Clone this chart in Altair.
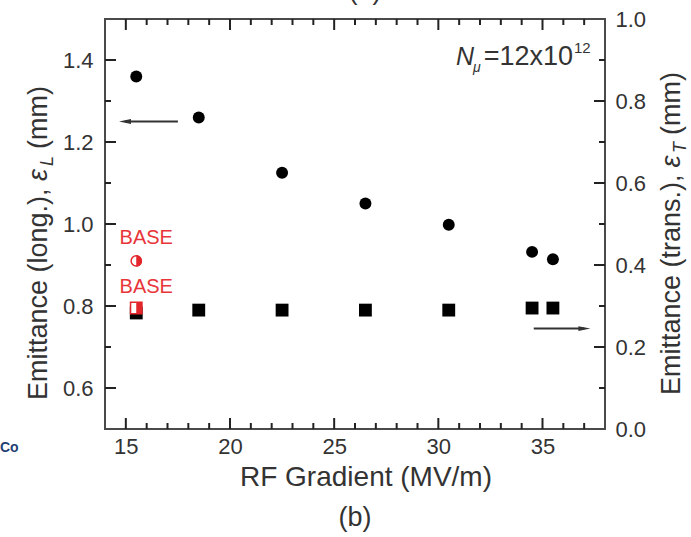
import altair as alt
import pandas as pd

FONT = "Liberation Sans"
TXT = "#333333"
AX = "#4a4a4a"
TICK = "#222222"
RED = "#e3262b"

# ---------------- data ----------------
gradient = [15.5, 18.5, 22.5, 26.5, 30.5, 34.5, 35.5]
emit_long = [1.36, 1.26, 1.125, 1.05, 0.998, 0.932, 0.914]
emit_trans = [0.283, 0.29, 0.29, 0.29, 0.29, 0.295, 0.295]
base_gradient = [15.5]
base_long = [0.91]
base_trans = [0.295]

x_major = [15, 20, 25, 30, 35]
x_minor = [16, 17, 18, 19, 21, 22, 23, 24, 26, 27, 28, 29, 31, 32, 33, 34, 36, 37]
left_labels = [0.6, 0.8, 1.0, 1.2, 1.4]
left_minor = [0.7, 0.9, 1.1, 1.3]
right_labels = [0.0, 0.2, 0.4, 0.6, 0.8, 1.0]
right_major = [0.2, 0.4, 0.6, 0.8]
right_minor = [0.1, 0.3, 0.5, 0.7, 0.9]

arrow_left_from, arrow_left_to, arrow_left_y = [17.5], [14.96], [1.25]
arrow_right_from, arrow_right_to, arrow_right_y = [34.58], [37.01], [0.245]

XDOM = [14, 38]
YLDOM = [0.5, 1.5]
YRDOM = [0.0, 1.0]
W, H = 500, 410
MAJ, MIN = 11, 6   # inward tick lengths in pixels

xenc = alt.X("g:Q", scale=alt.Scale(domain=XDOM, nice=False, zero=False),
             axis=alt.Axis(values=x_major, format="d", ticks=False, domain=False, grid=False,
                           labelPadding=7, labelFontSize=22, title=None))
yL = alt.Y("v:Q", scale=alt.Scale(domain=YLDOM, nice=False, zero=False),
           axis=alt.Axis(values=left_labels, format=".1f", ticks=False, domain=False, grid=False,
                         labelPadding=12, labelFontSize=22, title=None))
yR = alt.Y("v:Q", scale=alt.Scale(domain=YRDOM, nice=False, zero=False),
           axis=alt.Axis(values=right_labels, format=".1f", ticks=False, domain=False, grid=False,
                         orient="right", labelPadding=10, labelFontSize=22, title=None))

LEFT_HEAD = "M-1,0L1,-0.4L1,0.4Z"
RIGHT_HEAD = "M1,0L-1,-0.4L-1,0.4Z"
HALF_DISK = "M0,-1A1,1,0,0,1,0,1Z"
HALF_SQUARE = "M0,-1L1,-1L1,1L0,1Z"


def df(**kw):
    return pd.DataFrame(kw)


def xticks(vals, at_top, length):
    dy = length * (YLDOM[1] - YLDOM[0]) / H
    y0 = YLDOM[1] if at_top else YLDOM[0]
    y1 = y0 - dy if at_top else y0 + dy
    data = df(g=vals, v=[y0] * len(vals), v2=[y1] * len(vals))
    return alt.Chart(data).mark_rule(color=TICK, strokeWidth=2).encode(
        x=xenc, y=yL, y2="v2:Q")


def yticks(vals, yenc, at_right, length):
    dx = length * (XDOM[1] - XDOM[0]) / W
    x0 = XDOM[1] if at_right else XDOM[0]
    x1 = x0 - dx if at_right else x0 + dx
    data = df(v=vals, g=[x0] * len(vals), g2=[x1] * len(vals))
    return alt.Chart(data).mark_rule(color=TICK, strokeWidth=2).encode(
        y=yenc, x=xenc, x2="g2:Q")


def label(text, px, py, size=27, angle=0, align="center", baseline="middle",
          color=TXT, style="normal", weight="normal"):
    return alt.Chart(df(t=[text])).mark_text(
        font=FONT, fontSize=size, angle=angle, align=align, baseline=baseline,
        color=color, fontStyle=style, fontWeight=weight).encode(
        x=alt.value(px), y=alt.value(py), text="t:N")


# ---------------- left-axis group ----------------
left_layers = [
    alt.Chart(df(g=gradient, v=emit_long)).mark_point(
        shape="circle", filled=True, size=143, color="black", opacity=1).encode(x=xenc, y=yL),
    xticks(x_major, False, MAJ), xticks(x_minor, False, MIN),
    xticks(x_major, True, MAJ), xticks(x_minor, True, MIN),
    yticks(left_labels, yL, False, MAJ), yticks(left_minor, yL, False, MIN),
    alt.Chart(df(g=base_gradient, v=base_long)).mark_point(
        shape="circle", filled=True, size=105, fill="white", stroke=RED, strokeWidth=1.5,
        opacity=1).encode(x=xenc, y=yL),
    alt.Chart(df(g=base_gradient, v=base_long)).mark_point(
        shape=HALF_DISK, filled=True, size=130, color=RED, opacity=1).encode(x=xenc, y=yL),
    alt.Chart(df(g=base_gradient, v=base_long)).mark_text(
        font=FONT, fontSize=20, color="#e8353a", dx=10, dy=-23).encode(
        x=xenc, y=yL, text=alt.value("BASE")),
    alt.Chart(df(g=arrow_left_from, g2=arrow_left_to, v=arrow_left_y)).mark_rule(
        color="#333333", strokeWidth=2).encode(x=xenc, x2="g2:Q", y=yL),
    alt.Chart(df(g=arrow_left_to, v=arrow_left_y)).mark_point(
        shape=LEFT_HEAD, filled=True, size=144, color="#333333", opacity=1).encode(x=xenc, y=yL),
    # annotation N_mu = 12x10^12
    label("N", 351, 46, size=25, align="left", baseline="alphabetic", style="italic"),
    label("\u03bc", 368, 53, size=14, align="left", baseline="alphabetic", style="italic"),
    label("=12x10", 468, 46, size=27, align="right", baseline="alphabetic"),
    label("12", 469, 34, size=15, align="left", baseline="alphabetic"),
    # axis titles
    label("Emittance (long.), ", -58, 381, angle=270, align="left", baseline="alphabetic"),
    label("\u03b5", -58, 162, angle=270, align="left", baseline="alphabetic", style="italic"),
    label("L", -52, 147, size=18, angle=270, align="left", baseline="alphabetic", style="italic"),
    label("(mm)", -58, 130, angle=270, align="left", baseline="alphabetic"),
    label("Emittance (trans.), ", 575, 376, angle=270, align="left", baseline="alphabetic"),
    label("\u03b5", 575, 148.5, angle=270, align="left", baseline="alphabetic", style="italic"),
    label("T", 581, 134, size=18, angle=270, align="left", baseline="alphabetic", style="italic"),
    label("(mm)", 575, 116, angle=270, align="left", baseline="alphabetic"),
    label("RF Gradient (MV/m)", 261, 459, size=28),
    label("(b)", 250, 499),
    label("(a)", 260, -20, baseline="alphabetic"),
    label("Co", -105, 429, size=14, align="left", color="#1f3f73", weight="bold"),
]

# ---------------- right-axis group ----------------
right_layers = [
    alt.Chart(df(g=gradient, v=emit_trans)).mark_point(
        shape="square", filled=True, size=165, color="black", opacity=1).encode(x=xenc, y=yR),
    yticks(right_major, yR, True, MAJ), yticks(right_minor, yR, True, MIN),
    alt.Chart(df(g=base_gradient, v=base_trans)).mark_point(
        shape="square", filled=True, size=130, fill="white", stroke=RED, strokeWidth=1.5,
        opacity=1).encode(x=xenc, y=yR),
    alt.Chart(df(g=base_gradient, v=base_trans)).mark_point(
        shape=HALF_SQUARE, filled=True, size=130, color=RED, opacity=1).encode(x=xenc, y=yR),
    alt.Chart(df(g=base_gradient, v=base_trans)).mark_text(
        font=FONT, fontSize=20, color="#e8353a", dx=10, dy=-21).encode(
        x=xenc, y=yR, text=alt.value("BASE")),
    alt.Chart(df(g=arrow_right_from, g2=arrow_right_to, v=arrow_right_y)).mark_rule(
        color="#333333", strokeWidth=2).encode(x=xenc, x2="g2:Q", y=yR),
    alt.Chart(df(g=arrow_right_to, v=arrow_right_y)).mark_point(
        shape=RIGHT_HEAD, filled=True, size=144, color="#333333", opacity=1).encode(x=xenc, y=yR),
]

chart = alt.layer(
    alt.layer(*left_layers),
    alt.layer(*right_layers),
).resolve_scale(y="independent").properties(
    width=W, height=H,
    autosize=alt.AutoSizeParams(type="none"),
    padding={"left": 105, "top": 19, "right": 86, "bottom": 108},
    background="white",
).configure_view(
    stroke=AX, strokeWidth=2
).configure_axis(
    labelFont=FONT, labelColor=TXT
)

chart.save("out.html", embed_options={"renderer": "svg", "actions": False})
